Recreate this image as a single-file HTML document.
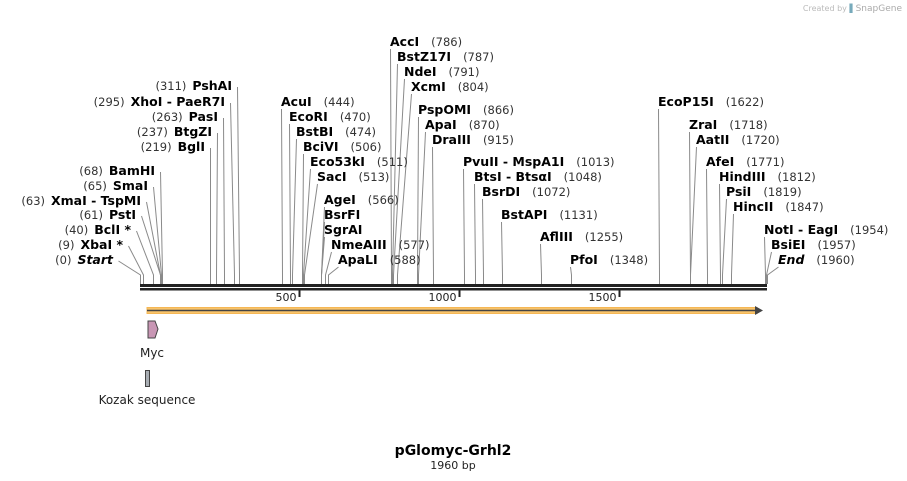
<!DOCTYPE html>
<html><head><meta charset="utf-8"><style>
html,body{margin:0;padding:0;background:#fff;}
svg{display:block;font-family:"DejaVu Sans","Liberation Sans",sans-serif;}
</style></head><body>
<svg id="map" width="907" height="481" viewBox="0 0 907 481">
<text x="902" y="11" text-anchor="end" font-size="8" fill="#bbb">Created by <tspan fill="#7ab" font-weight="bold">▌</tspan><tspan fill="#aaa" font-size="9">SnapGene</tspan></text>
<g id="lines"></g>
<g id="labels"></g>
<rect x="140" y="284" width="627" height="3" fill="#222"/>
<rect x="140" y="288" width="627" height="2.5" fill="#222"/>
<g id="ticks"></g>
<g>
<rect x="147" y="307.5" width="610" height="6" fill="#f9c46b" stroke="#f5b755" stroke-width="1"/>
<line x1="147" y1="310.5" x2="758" y2="310.5" stroke="#444" stroke-width="1.5"/>
<polygon points="755,306 763,310.5 755,315" fill="#444"/>
</g>
<polygon points="148,321 155,321 158,329 155,338 148,338" fill="#c896b4" stroke="#444" stroke-width="1"/>
<text x="152" y="357" text-anchor="middle" font-size="12" fill="#222">Myc</text>
<rect x="145.5" y="370.5" width="4" height="16" fill="#a8adb3" stroke="#444" stroke-width="1"/>
<text x="147" y="404" text-anchor="middle" font-size="12" fill="#222">Kozak sequence</text>
<text x="453" y="455" text-anchor="middle" font-size="14" font-weight="bold" fill="#000">pGlomyc-Grhl2</text>
<text x="453" y="469" text-anchor="middle" font-size="11" fill="#222">1960 bp</text>
</svg>
<script>
const totalBp = 1960;
const tickValues = [500, 1000, 1500];
const enzymeNames = ["PshAI","XhoI - PaeR7I","PasI","BtgZI","BglI","BamHI","SmaI","XmaI - TspMI","PstI","BclI *","XbaI *","Start",
"AcuI","EcoRI","BstBI","BciVI","Eco53kI","SacI","AgeI","BsrFI","SgrAI","NmeAIII","ApaLI",
"AccI","BstZ17I","NdeI","XcmI","PspOMI","ApaI","DraIII","PvuII - MspA1I","BtsI - BtsαI","BsrDI","BstAPI","AflIII","PfoI",
"EcoP15I","ZraI","AatII","AfeI","HindIII","PsiI","HincII","NotI - EagI","BsiEI","End"];
const enzymeSites = [311,295,263,237,219,68,65,63,61,40,9,0,
444,470,474,506,511,513,566,566,566,577,588,
786,787,791,804,866,870,915,1013,1048,1072,1131,1255,1348,
1622,1718,1720,1771,1812,1819,1847,1954,1957,1960];
const showNumber = [1,1,1,1,1,1,1,1,1,1,1,1, 1,1,1,1,1,1,1,0,0,1,1, 1,1,1,1,1,1,1,1,1,1,1,1,1, 1,1,1,1,1,1,1,1,1,1];
// layout (not data): label anchor x and baseline y
const labelSide = [0,0,0,0,0,0,0,0,0,0,0,0, 1,1,1,1,1,1,1,1,1,1,1, 1,1,1,1,1,1,1,1,1,1,1,1,1, 1,1,1,1,1,1,1,1,1,1];
const labelX = [232,225,218,212,205,155,148,141,136,131,123,113,
281,289,296,303,310,317,324,324,324,331,338,
390,397,404,411,418,425,432,463,474,482,501,540,570,
658,689,696,706,719,726,733,764,771,778];
const labelY = [90,106,121,136,151,175,190,205,219,234,249,264,
106,121,136,151,166,181,204,219,234,249,264,
46,61,76,91,114,129,144,166,181,196,219,241,264,
106,129,144,166,181,196,211,234,249,264];

const xScale = bp => 140 + bp * (627 / totalBp);
const NS = "http://www.w3.org/2000/svg";
const gL = document.getElementById('lines');
const gT = document.getElementById('labels');
const gK = document.getElementById('ticks');

tickValues.forEach(v => {
  const x = Math.round(xScale(v)) - 0.5;
  const t = document.createElementNS(NS, 'line');
  t.setAttribute('x1', x); t.setAttribute('x2', x);
  t.setAttribute('y1', 290); t.setAttribute('y2', 297);
  t.setAttribute('stroke', '#222'); t.setAttribute('stroke-width', 2);
  
  
  gK.appendChild(t);
  const tx = document.createElementNS(NS, 'text');
  tx.setAttribute('x', x - 3); tx.setAttribute('y', 301);
  tx.setAttribute('text-anchor', 'end'); tx.setAttribute('font-size', '11'); tx.setAttribute('fill', '#222');
  tx.textContent = v;
  
  
  gK.appendChild(tx);
});

enzymeNames.forEach((name, i) => {
  const sx = Math.round(xScale(enzymeSites[i])) + 0.5;
  const side = labelSide[i];
  const ax = side ? labelX[i] + 0.5 : labelX[i] + 5.5;
  const ly = labelY[i];
  const pl = document.createElementNS(NS, 'polyline');
  const top = side ? ly + 3 : ly - 3;
  const pts = `${ax},${top} ${sx},275 ${sx},284`;
  pl.setAttribute('points', pts);
  pl.setAttribute('fill', 'none'); pl.setAttribute('stroke', '#8a8a8a'); pl.setAttribute('stroke-width', 1);
  
  
  gL.appendChild(pl);

  const t = document.createElementNS(NS, 'text');
  t.setAttribute('y', ly);
  t.setAttribute('font-size', '12.5');
  const italic = (name === 'Start' || name === 'End');
  const num = '(' + enzymeSites[i] + ')';
  const nm = document.createElementNS(NS, 'tspan');
  nm.setAttribute('font-weight', 'bold'); nm.setAttribute('fill', '#000');
  if (italic) nm.setAttribute('font-style', 'italic');
  nm.textContent = name;
  const nb = document.createElementNS(NS, 'tspan');
  nb.setAttribute('fill', '#333'); nb.setAttribute('font-size', '11.5');
  nb.textContent = num;
  if (side) {
    t.setAttribute('x', labelX[i]);
    t.appendChild(nm);
    if (showNumber[i]) { nb.setAttribute('dx', '12'); t.appendChild(nb); }
  } else {
    t.setAttribute('x', labelX[i]); t.setAttribute('text-anchor', 'end');
    t.appendChild(nb); nm.setAttribute('dx', '6'); t.appendChild(nm);
  }
  
  
  gT.appendChild(t);
});
</script>
</body></html>
